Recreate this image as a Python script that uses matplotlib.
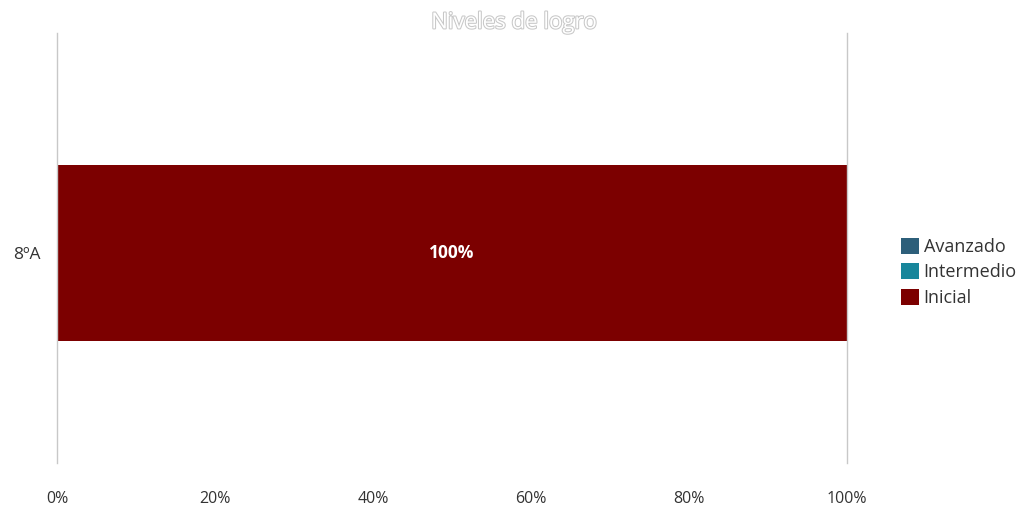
import matplotlib.pyplot as plt
import matplotlib.patheffects as pe

categories = ['8ºA']
series = ['Avanzado', 'Intermedio', 'Inicial']
values = {
    'Avanzado': [0],
    'Intermedio': [0],
    'Inicial': [100],
}
colors = {'Avanzado': '#2d5f7a', 'Intermedio': '#17869b', 'Inicial': '#7c0000'}
xticks = [0, 20, 40, 60, 80, 100]

plt.rcParams['font.family'] = ['Open Sans', 'DejaVu Sans']

fig = plt.figure(figsize=(10.18, 5.09), dpi=100)
ax = fig.add_axes([0.056, 0.090, 0.776, 0.845])

left = [0] * len(categories)
handles = []
for s in series:
    b = ax.barh(categories, values[s], left=left, height=0.41,
                color=colors[s], label=s)
    handles.append(b)
    for i, v in enumerate(values[s]):
        if v > 0:
            ax.text(left[i] + v / 2, i, f'{v}%', ha='center', va='center',
                    color='white', fontsize=12.5, fontweight='bold')
    left = [l + v for l, v in zip(left, values[s])]

ax.set_xlim(0, 100)
ax.set_ylim(-0.488, 0.512)
ax.set_xticks(xticks)
ax.set_xticklabels([f'{t}%' for t in xticks], fontsize=11.5, color='#333333')
ax.tick_params(axis='x', length=0, pad=20)
ax.tick_params(axis='y', length=0, pad=12, labelsize=12.5, labelcolor='#333333')
for sp in ['top', 'bottom']:
    ax.spines[sp].set_visible(False)
for sp in ['left', 'right']:
    ax.spines[sp].set_color('#c8c8c8')
    ax.spines[sp].set_linewidth(1)

fig.text(0.505, 0.955, 'Niveles de logro', ha='center', va='center',
         fontsize=16, color='white',
         path_effects=[pe.withStroke(linewidth=1.5, foreground='#c8c8c8')])

leg = fig.legend(handles=handles, labels=series, loc='center left',
                 bbox_to_anchor=(0.878, 0.465), frameon=False, fontsize=13,
                 handlelength=1.0, handleheight=1.0, handletextpad=0.25,
                 labelspacing=0.4, borderaxespad=0)
for t in leg.get_texts():
    t.set_color('#333333')

fig.savefig('out.png', dpi=100)
